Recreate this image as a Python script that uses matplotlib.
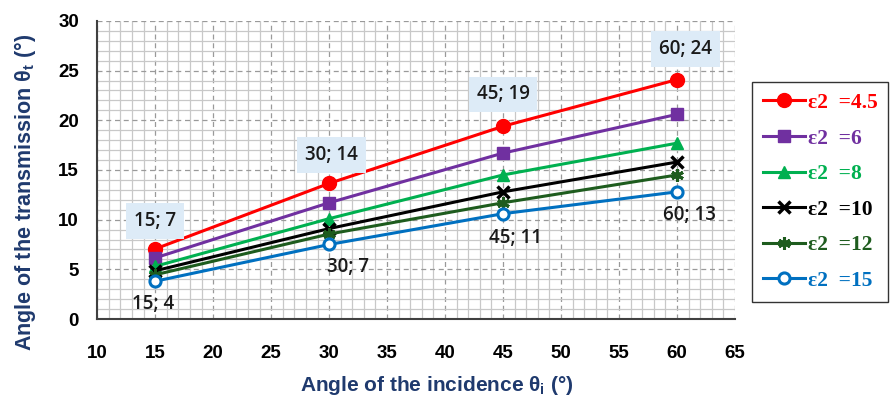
import matplotlib
matplotlib.use("Agg")
import matplotlib.pyplot as plt
from matplotlib.ticker import MultipleLocator

# incidence angles (deg)
theta_i = [15, 30, 45, 60]

# transmission angles, one list per eps2
eps_labels = ['4.5', '6', '8', '10', '12', '15']
t_eps45 = [7.05, 13.65, 19.4, 24.1]
t_eps6 = [6.15, 11.7, 16.7, 20.6]
t_eps8 = [5.3, 10.1, 14.5, 17.7]
t_eps10 = [4.85, 9.1, 12.8, 15.8]
t_eps12 = [4.45, 8.55, 11.7, 14.5]
t_eps15 = [3.8, 7.5, 10.6, 12.8]

series = [t_eps45, t_eps6, t_eps8, t_eps10, t_eps12, t_eps15]
colors = ['#FF0000', '#7030A0', '#00B050', '#000000', '#1E5C1E', '#0070C0']

# point annotations: (text, x, y, boxed)
notes = [('15; 7', 15, 9.9, True), ('30; 14', 30.2, 16.5, True),
         ('45; 19', 45, 22.6, True), ('60; 24', 60.7, 27.2, True),
         ('15; 4', 14.8, 1.55, False), ('30; 7', 31.6, 5.2, False),
         ('45; 11', 46.1, 8.2, False), ('60; 13', 61.1, 10.5, False)]

navy = '#1F3A6E'

fig = plt.figure(figsize=(8.91, 3.99), dpi=100)
ax = fig.add_axes([0.109, 0.2005, 0.716, 0.747])

ax.set_xlim(10, 65)
ax.set_ylim(0, 30)
ax.xaxis.set_major_locator(MultipleLocator(5))
ax.yaxis.set_major_locator(MultipleLocator(5))
ax.xaxis.set_minor_locator(MultipleLocator(1))
ax.yaxis.set_minor_locator(MultipleLocator(1))
ax.grid(which='minor', color='#C8C8C8', lw=0.9, ls='-')
ax.grid(which='major', color='#9A9A9A', lw=0.9, ls=(0, (4, 3)))
ax.set_axisbelow(True)
ax.tick_params(which='both', length=0)
ax.tick_params(axis='x', pad=19)
ax.tick_params(axis='y', pad=13)
for lab in ax.get_xticklabels() + ax.get_yticklabels():
    lab.set_fontweight('bold')
    lab.set_fontsize(13.5)
    lab.set_fontfamily('Liberation Sans')
ax.spines['top'].set_visible(False)
ax.spines['right'].set_visible(False)
ax.spines['left'].set_color('#404040')
ax.spines['bottom'].set_color('#404040')
ax.spines['left'].set_linewidth(1.5)
ax.spines['bottom'].set_linewidth(1.5)

styles = [dict(marker='o', ms=10),
          dict(marker='s', ms=8),
          dict(marker='^', ms=8),
          dict(marker='x', ms=8, mew=2.5),
          dict(marker=(6, 2, 0), ms=9, mew=2.2),
          dict(marker='o', ms=8, mfc='white', mew=2.2)]

for vals, c, st, lab in zip(series, colors, styles, eps_labels):
    ax.plot(theta_i, vals, color=c, lw=2.2, label='\u03b52  =' + lab, **st)

for txt, x, y, boxed in notes:
    bb = dict(boxstyle='square,pad=0.42', fc='#DDEBF7', ec='none') if boxed else None
    ax.text(x, y, txt, ha='center', va='center', fontsize=13.5,
            fontfamily='Open Sans', fontweight='semibold', color='#1A1A1A', bbox=bb)

ax.set_xlabel('Angle of the incidence \u03b8$_\\mathregular{i}$ (\u00b0)', fontsize=15,
              fontweight='bold', color=navy, fontfamily='Liberation Sans')
ax.set_ylabel('Angle of the transmission \u03b8$_\\mathregular{t}$ (\u00b0)', fontsize=15.5,
              fontweight='bold', color=navy, fontfamily='Liberation Sans')
ax.xaxis.set_label_coords(0.533, -0.185)
ax.yaxis.set_label_coords(-0.093, 0.426)

leg = ax.legend(loc='upper left', bbox_to_anchor=(0.844, 0.794), bbox_transform=fig.transFigure,
                borderaxespad=0, handlelength=1.95, labelspacing=0.72, frameon=True,
                fancybox=False, edgecolor='black', handletextpad=0.15, borderpad=0.5,
                prop={'family': 'Liberation Serif', 'weight': 'bold', 'size': 15.5})
leg.get_frame().set_linewidth(1.0)
for t, c in zip(leg.get_texts(), colors):
    t.set_color(c)

fig.savefig('out.png', dpi=100)
